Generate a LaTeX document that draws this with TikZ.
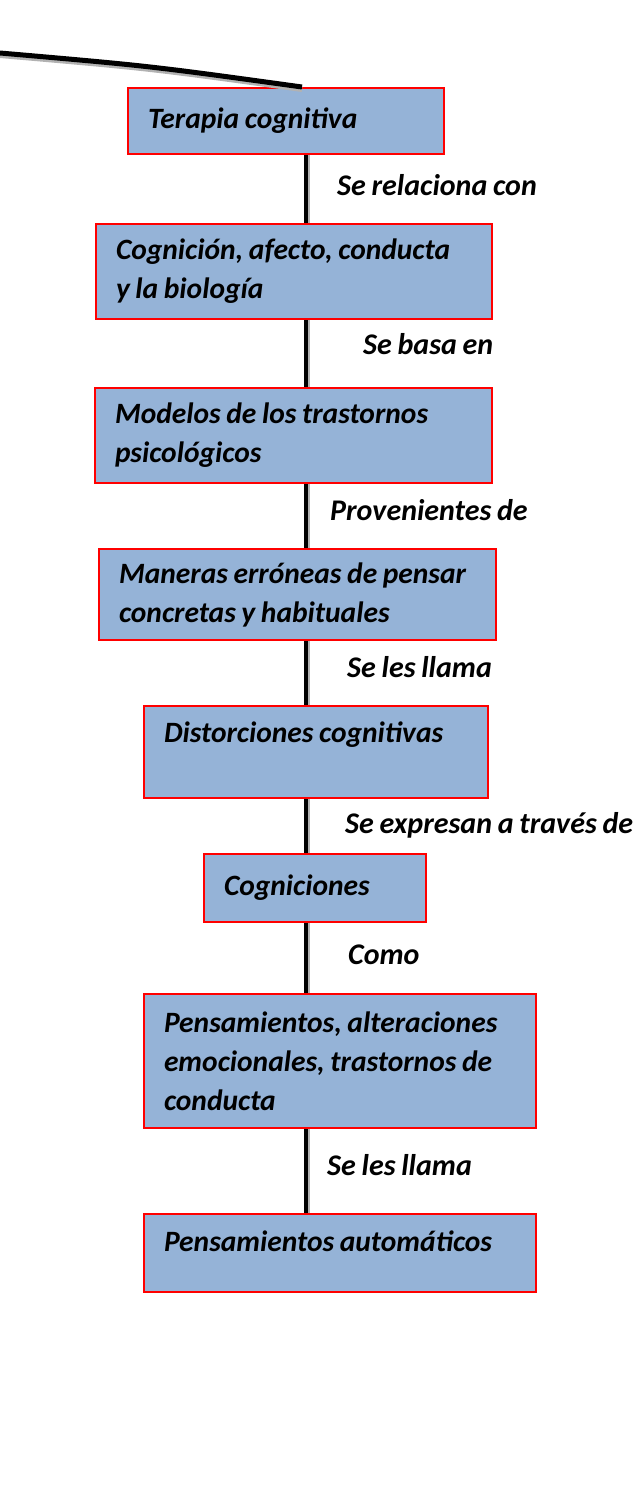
\documentclass[tikz,border=0pt]{standalone}
\usepackage{fontspec}
\setmainfont{Carlito}[WordSpace={0.85,0.5,0.5}]
\usepackage{tikz}
\definecolor{boxblue}{HTML}{95B3D7}
\tikzset{
  box/.style={draw=red, line width=2pt, fill=boxblue, anchor=north west,
    inner xsep=20pt, inner ysep=0pt, align=left,
    execute at begin node={\spaceskip=0.19em plus 0.05em\xspaceskip=0.25em\relax},
    font=\fontsize{29.5}{39}\selectfont\bfseries\itshape},
  lbl/.style={anchor=west, inner sep=0pt,
    font=\fontsize{30}{38}\selectfont\bfseries\itshape},
  link/.style={line width=4pt,
    preaction={draw=black!30, line width=4pt, transform canvas={xshift=2pt}}},
  topline/.style={line width=5pt,
    preaction={draw=black!30, line width=5pt, transform canvas={yshift=-2.5pt}}}
}

\begin{document}
\begin{tikzpicture}[x=1pt, y=-1pt]
    \useasboundingbox (0,0) rectangle (644,1510);
    \coordinate (sp) at (306,0);
    \coordinate (tx) at (302,0);
    \coordinate (tl) at (0,53);

    % boxes
    \node[box, text width=276pt, minimum height=66pt] (terapia) at (127,87) {Terapia cognitiva};
    \node[box, text width=356pt, minimum height=95pt] (cognicion) at (95,223) {Cognición, afecto, conducta\\y la biología};
    \node[box, text width=357pt, minimum height=95pt] (modelos) at (94,387) {Modelos de los trastornos\\psicológicos};
    \node[box, text width=357pt, minimum height=91pt] (maneras) at (98,548) {Maneras erróneas de pensar\\concretas y habituales};
    \node[box, text width=304pt, minimum height=92pt, text depth=39pt] (distorsion) at (143,705) {Distorciones cognitivas};
    \node[box, text width=182pt, minimum height=68pt] (cogniciones) at (203,853) {Cogniciones};
    \node[box, text width=352pt, minimum height=134pt] (pensam) at (143,993) {Pensamientos, alteraciones\\emocionales, trastornos de\\conducta};
    \node[box, text width=352pt, minimum height=78pt, text depth=23pt] (automat) at (143,1213) {Pensamientos automáticos};

    % connectors
    \draw[topline] (tl) .. controls (150,66) .. (terapia.north -| tx);
    \draw[link] (terapia.south -| sp) -- (cognicion.north -| sp);
    \draw[link] (cognicion.south -| sp) -- (modelos.north -| sp);
    \draw[link] (modelos.south -| sp) -- (maneras.north -| sp);
    \draw[link] (maneras.south -| sp) -- (distorsion.north -| sp);
    \draw[link] (distorsion.south -| sp) -- (cogniciones.north -| sp);
    \draw[link] (cogniciones.south -| sp) -- (pensam.north -| sp);
    \draw[link] (pensam.south -| sp) -- (automat.north -| sp);

    % labels
    \node[lbl] (rel) at (337,185) {Se relaciona con};
    \node[lbl] (basa) at (363,344) {Se basa en};
    \node[lbl] (prov) at (330,510) {Provenientes de};
    \node[lbl] (llama) at (347,667) {Se les llama};
    \node[lbl] (expr) at (345,825) {Se expresan a través de};
    \node[lbl] (como) at (348,955) {Como};
    \node[lbl] (llamab) at (327,1165) {Se les llama};
\end{tikzpicture}
\end{document}
